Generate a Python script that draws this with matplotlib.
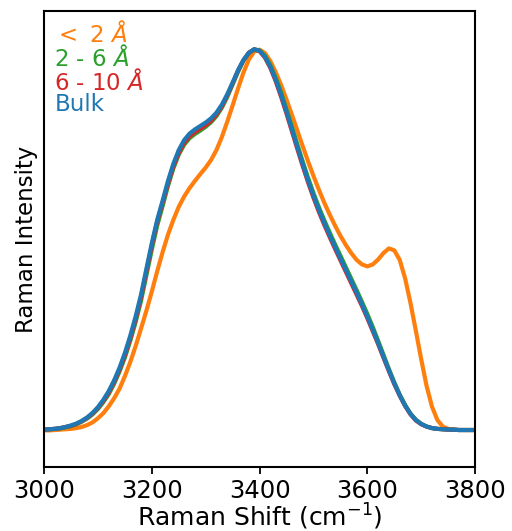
import numpy as np
import matplotlib
matplotlib.use('Agg')
from matplotlib import pyplot as plt

# Raman shift grid (cm^-1) and normalised OH-stretch spectra per layer
shift = np.arange(3000, 3801, 10)

lt2 = [
    .001, .001, .002, .003, .004, .005, .007, .010, .015, .022,
    .033, .046, .064, .085, .110, .143, .180, .222, .268, .315,
    .365, .418, .468, .514, .553, .587, .614, .636, .655, .673,
    .690, .710, .736, .770, .810, .853, .897, .939, .973, .994,
    .999, .990, .969, .940, .906, .868, .828, .787, .746, .706,
    .668, .632, .598, .567, .538, .511, .487, .466, .448, .436,
    .431, .436, .449, .466, .478, .473, .448, .400, .335, .262,
    .187, .117, .063, .028, .011, .005, .003, .002, .002, .002,
    .002]

l2_6 = [
    .003, .004, .005, .006, .009, .012, .017, .024, .032, .043,
    .057, .075, .096, .123, .155, .192, .236, .285, .341, .408,
    .475, .538, .589, .642, .688, .724, .750, .767, .778, .787,
    .797, .809, .825, .847, .875, .908, .941, .970, .990, 1.000,
    .997, .983, .958, .925, .886, .842, .797, .751, .706, .663,
    .623, .586, .552, .520, .489, .459, .429, .399, .369, .338,
    .306, .272, .236, .199, .162, .127, .095, .068, .045, .029,
    .018, .011, .007, .005, .004, .003, .003, .002, .002, .002,
    .002]

l6_10 = [
    .003, .004, .005, .007, .010, .013, .018, .025, .034, .045,
    .060, .078, .100, .128, .160, .198, .242, .293, .350, .418,
    .486, .548, .598, .648, .693, .729, .755, .772, .783, .792,
    .801, .813, .829, .851, .879, .911, .944, .971, .991, 1.000,
    .995, .978, .951, .916, .875, .831, .785, .739, .694, .651,
    .611, .574, .540, .508, .477, .447, .417, .387, .357, .327,
    .295, .261, .227, .191, .156, .122, .092, .065, .043, .027,
    .017, .011, .007, .005, .004, .003, .003, .002, .002, .002,
    .002]

bulk = [
    .003, .004, .005, .007, .010, .014, .019, .026, .035, .047,
    .062, .081, .104, .132, .165, .204, .249, .300, .357, .425,
    .492, .553, .603, .655, .700, .736, .762, .779, .790, .799,
    .808, .819, .834, .855, .882, .913, .945, .972, .991, 1.000,
    .996, .980, .954, .920, .880, .836, .790, .744, .699, .656,
    .616, .579, .545, .513, .482, .452, .422, .392, .362, .331,
    .299, .265, .230, .194, .158, .124, .093, .066, .044, .028,
    .018, .011, .007, .005, .004, .003, .003, .002, .002, .002,
    .002]

labels = [r'$<$ 2 $\AA$', r'2 - 6 $\AA$', r'6 - 10 $\AA$', 'Bulk']
colors = ['tab:orange', 'tab:green', 'tab:red', 'tab:blue']

fig = plt.figure(figsize=(5.12, 5.31), dpi=100)
ax = fig.add_axes([0.086, 0.1205, 0.842, 0.8585])

for y, lab, col in zip([lt2, l2_6, l6_10, bulk], labels, colors):
    ax.plot(shift, y, color=col, lw=3, label=lab)

ax.set_xlim(3000, 3800)
ax.set_ylim(-0.095, 1.1)
ax.set_xticks([3000, 3200, 3400, 3600, 3800])
ax.set_yticks([])
ax.tick_params(axis='x', labelsize=17.5, length=5, width=1.3)
for s in ax.spines.values():
    s.set_linewidth(1.5)

ax.set_xlabel(r'Raman Shift (cm$^{-1}$)', fontsize=18, labelpad=-1)
ax.set_ylabel('Raman Intensity', fontsize=16.5)

leg = ax.legend(loc='upper left', frameon=False, fontsize=16.5,
                handlelength=0, handletextpad=0, labelspacing=-0.1,
                borderaxespad=0.05, labelcolor='linecolor')
for h in leg.legend_handles:
    h.set_visible(False)

plt.savefig('out.png', dpi=100)
